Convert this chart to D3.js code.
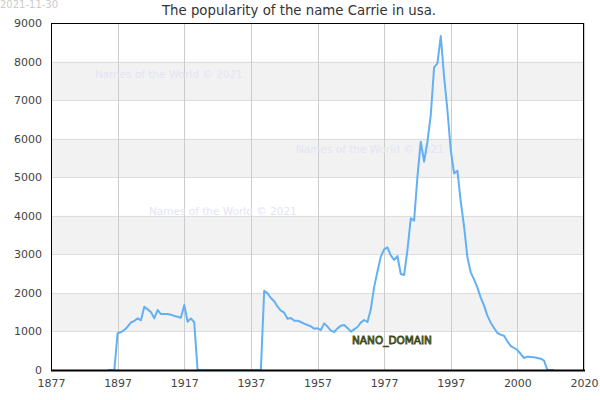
<!DOCTYPE html>
<html><head><meta charset="utf-8">
<script src="https://cdn.jsdelivr.net/npm/d3@7"></script>
<style>body{margin:0;background:#fff;}svg{display:block;font-family:"DejaVu Sans",sans-serif;}</style>
</head><body><svg id="c" width="600" height="400"></svg>
<script>
const title = "The popularity of the name Carrie in usa.";
const dateLabel = "2021-11-30";
const watermark = "Names of the World © 2021";
const years = d3.range(1894, 2029);
const births = [
  0,0,0,
  952,985,1037,1123,1236,1270,1340,1290,1642,1573,1504,1340,1556,1452,1452,1452,1435,1400,1383,1357,1686,1253,1340,1236,
  0,0,0,0,0,0,0,0,0,0,0,0,0,0,0,0,0,0,0,0,
  2057,1988,1867,1781,1642,1539,1487,1331,1350,1280,1280,1245,1202,1167,1132,1072,1080,1037,1210,1124,1020,985,1080,1150,1167,1089,994,1055,1115,1228,1297,1245,1573,
  2150,2559,2939,3129,3181,2974,2853,2956,2490,2464,3112,3934,3873,5014,5921,5403,5921,6613,7849,7953,8662,7607,6743,5700,
  5100,5169,4365,3717,2922,2533,2352,2135,1876,1669,1409,1228,1089,960,916,890,743,622,571,519,415,311,346,337,328,311,294,242,0,0,0
];
const xTickValues = [1877,1897,1917,1937,1957,1977,1997,2017,2037];
const xTickLabels = ["1877","1897","1917","1937","1957","1977","1997","2000","2020"];
const yTicks = [0,1000,2000,3000,4000,5000,6000,7000,8000,9000];

const svg = d3.select("#c");
const L=51,R=584,T=23,B=370;
const x = d3.scaleLinear().domain([1877,2037]).range([L,R]);
const y = d3.scaleLinear().domain([0,9000]).range([B,T]);

// bands
const bands = [[1000,2000],[3000,4000],[5000,6000],[7000,8000]];
svg.append("g").selectAll("rect").data(bands).join("rect")
  .attr("x",L).attr("width",R-L)
  .attr("y",d=>y(d[1])).attr("height",d=>y(d[0])-y(d[1]))
  .attr("fill","#f2f2f2");
// horizontal grid
svg.append("g").selectAll("line").data(yTicks).join("line")
  .attr("x1",L).attr("x2",R).attr("y1",d=>Math.round(y(d))+0.5).attr("y2",d=>Math.round(y(d))+0.5)
  .attr("stroke","#dddddd");
// vertical grid
svg.append("g").selectAll("line").data(xTickValues).join("line")
  .attr("y1",T).attr("y2",B).attr("x1",d=>Math.round(x(d))+0.5).attr("x2",d=>Math.round(x(d))+0.5)
  .attr("stroke","#cccccc");

// watermarks
const wm = [[95,78],[296,153],[149,215]];
svg.append("g").selectAll("text").data(wm).join("text")
  .attr("x",d=>d[0]).attr("y",d=>d[1]).text(watermark)
  .attr("font-size",10.5).attr("fill","#e4e4f4");

// line
const pts = years.map((yr,i)=>[yr,births[i]]);
svg.append("path").datum(pts)
  .attr("d", d3.line().x(d=>x(d[0])).y(d=>y(d[1])))
  .attr("fill","none").attr("stroke","#64b0f4").attr("stroke-width",2).attr("stroke-linejoin","round");

// frame
svg.append("rect").attr("x",L+0.5).attr("y",T+0.5).attr("width",R-L-1).attr("height",B-T)
  .attr("fill","none").attr("stroke","#000").attr("stroke-width",1);
svg.append("line").attr("x1",L).attr("x2",R+1).attr("y1",B+0.5).attr("y2",B+0.5).attr("stroke","#000").attr("stroke-width",2);

// axes
const ya = d3.axisLeft(y).tickValues(yTicks).tickFormat(d3.format("d")).tickSize(0).tickPadding(9);
const gy = svg.append("g").attr("transform",`translate(${L},0)`).call(ya);
gy.select(".domain").remove();
gy.selectAll("text").attr("font-size",11).attr("fill","#444").attr("font-family","DejaVu Sans");
const xa = d3.axisBottom(x).tickValues(xTickValues).tickFormat((d,i)=>xTickLabels[i]).tickSize(0).tickPadding(9);
const gx = svg.append("g").attr("transform",`translate(0,${B})`).call(xa);
gx.select(".domain").remove();
gx.selectAll("text").attr("font-size",11).attr("fill","#444").attr("font-family","DejaVu Sans");

// title & date
svg.append("text").attr("x",299).attr("y",15).attr("text-anchor","middle")
  .attr("font-size",13.3).attr("fill","#333").text(title);
svg.append("text").attr("x",0).attr("y",8).attr("font-size",10).attr("fill","#cccccc").text(dateLabel);

// NANO_DOMAIN
svg.append("text").attr("x",352).attr("y",344).text("NANO_DOMAIN")
  .attr("font-size",10.5).attr("fill","#8a9a4a").attr("stroke","#3d4a1c").attr("stroke-width",0.8)
  .attr("paint-order","fill");
</script></body></html>
